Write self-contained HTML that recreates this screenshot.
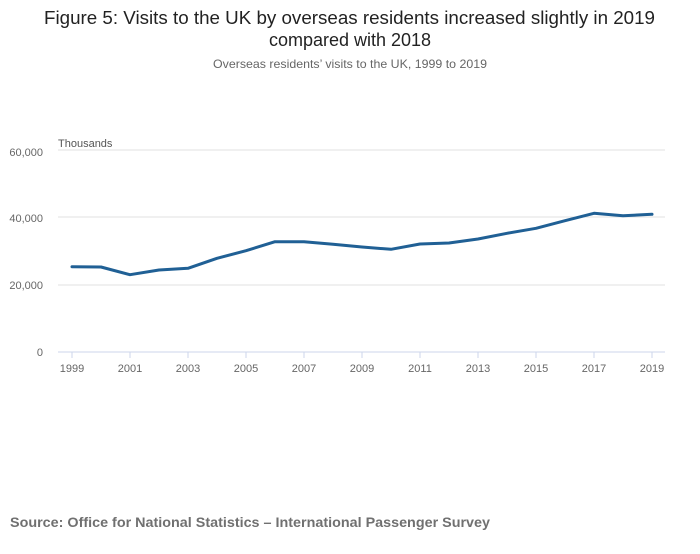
<!DOCTYPE html>
<html><head><meta charset="utf-8"><style>
body{margin:0;background:#fff;font-family:"Liberation Sans",sans-serif;}
</style></head><body>
<svg width="700" height="549" xmlns="http://www.w3.org/2000/svg" font-family="Liberation Sans, sans-serif">
<rect width="700" height="549" fill="#fff"/>
<text x="44" y="24" font-size="18" fill="#222" textLength="611" lengthAdjust="spacingAndGlyphs">Figure 5: Visits to the UK by overseas residents increased slightly in 2019</text>
<text x="350" y="46" text-anchor="middle" font-size="18" fill="#222">compared with 2018</text>
<text x="213" y="68" font-size="12" fill="#666" textLength="274" lengthAdjust="spacingAndGlyphs">Overseas residents’ visits to the UK, 1999 to 2019</text>
<text x="58" y="147" font-size="11" fill="#555">Thousands</text>
<g stroke="#e2e2e2" stroke-width="1">
<line x1="58" y1="150" x2="665" y2="150"/>
<line x1="58" y1="217" x2="665" y2="217"/>
<line x1="58" y1="285" x2="665" y2="285"/>
</g>
<line x1="58" y1="352" x2="665" y2="352" stroke="#ccd6eb"/>
<g font-size="11" fill="#666" text-anchor="end">
<text x="43" y="156">60,000</text><text x="43" y="222">40,000</text><text x="43" y="289">20,000</text><text x="43" y="356">0</text>
</g>
<g stroke="#ccd6eb">
<line x1="72" y1="352" x2="72" y2="358"/><line x1="130" y1="352" x2="130" y2="358"/><line x1="188" y1="352" x2="188" y2="358"/><line x1="246" y1="352" x2="246" y2="358"/><line x1="304" y1="352" x2="304" y2="358"/><line x1="362" y1="352" x2="362" y2="358"/><line x1="420" y1="352" x2="420" y2="358"/><line x1="478" y1="352" x2="478" y2="358"/><line x1="536" y1="352" x2="536" y2="358"/><line x1="594" y1="352" x2="594" y2="358"/><line x1="652" y1="352" x2="652" y2="358"/>
</g>
<g font-size="11" fill="#666" text-anchor="middle">
<text x="72" y="372">1999</text><text x="130" y="372">2001</text><text x="188" y="372">2003</text><text x="246" y="372">2005</text><text x="304" y="372">2007</text><text x="362" y="372">2009</text><text x="420" y="372">2011</text><text x="478" y="372">2013</text><text x="536" y="372">2015</text><text x="594" y="372">2017</text><text x="652" y="372">2019</text>
</g>
<polyline fill="none" stroke="#206095" stroke-width="3" stroke-linejoin="round" stroke-linecap="round" points="72,266.7 101,267 130,274.7 159,270 188,268.3 217,258.3 246,250.7 275,241.7 304,241.7 333,244.3 362,247 391,249.3 420,244 449,243 478,239 507,233.3 536,228.3 565,220.7 594,213.3 623,215.7 652,214.3"/>
<text x="10" y="527" font-size="14" font-weight="bold" fill="#707070" textLength="480" lengthAdjust="spacingAndGlyphs">Source: Office for National Statistics – International Passenger Survey</text>
</svg>
</body></html>
